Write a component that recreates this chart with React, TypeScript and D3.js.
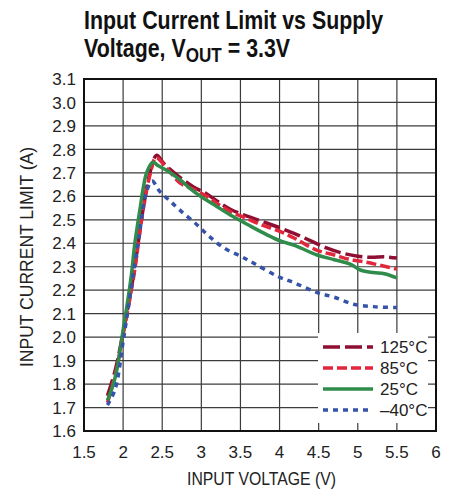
import React from 'react';
import * as d3 from 'd3';

// Values
const xTicks = [1.5, 2, 2.5, 3, 3.5, 4, 4.5, 5, 5.5, 6];
const yTicks = [1.6, 1.7, 1.8, 1.9, 2.0, 2.1, 2.2, 2.3, 2.4, 2.5, 2.6, 2.7, 2.8, 2.9, 3.0, 3.1];

const vin125 = [1.8, 1.9, 2.0, 2.1, 2.15, 2.26, 2.35, 2.43, 2.52, 2.62, 2.73, 2.9, 3.07, 3.2, 3.37, 3.55, 3.76, 4.01, 4.2, 4.4, 4.6, 4.78, 5.0, 5.17, 5.35, 5.5];
const cur125 = [1.75, 1.86, 2.02, 2.2, 2.3, 2.556, 2.71, 2.775, 2.74, 2.71, 2.68, 2.64, 2.61, 2.58, 2.545, 2.52, 2.495, 2.465, 2.44, 2.41, 2.38, 2.36, 2.345, 2.34, 2.342, 2.337];

const vin85 = [1.8, 1.9, 2.0, 2.1, 2.15, 2.26, 2.35, 2.42, 2.56, 2.73, 2.9, 3.07, 3.2, 3.37, 3.55, 3.76, 4.01, 4.2, 4.48, 4.7, 4.91, 5.1, 5.3, 5.5];
const cur85 = [1.72, 1.84, 2.01, 2.19, 2.29, 2.55, 2.7, 2.765, 2.72, 2.656, 2.63, 2.6, 2.57, 2.535, 2.51, 2.48, 2.45, 2.42, 2.37, 2.35, 2.33, 2.32, 2.305, 2.29];

const vin25 = [1.8, 1.9, 2.0, 2.1, 2.15, 2.22, 2.26, 2.3, 2.38, 2.45, 2.56, 2.73, 2.85, 2.99, 3.16, 3.37, 3.59, 3.84, 4.01, 4.2, 4.48, 4.7, 4.91, 5.04, 5.2, 5.34, 5.5];
const cur25 = [1.73, 1.83, 2.03, 2.25, 2.4, 2.555, 2.64, 2.7, 2.745, 2.73, 2.71, 2.67, 2.635, 2.6, 2.565, 2.52, 2.48, 2.436, 2.41, 2.39, 2.35, 2.33, 2.31, 2.285, 2.275, 2.27, 2.252];

const vinM40 = [1.8, 1.9, 2.0, 2.1, 2.2, 2.3, 2.37, 2.47, 2.6, 2.73, 2.94, 3.1, 3.29, 3.5, 3.67, 3.97, 4.2, 4.48, 4.7, 4.95, 5.2, 5.5];
const curM40 = [1.71, 1.78, 1.98, 2.2, 2.42, 2.62, 2.665, 2.62, 2.58, 2.54, 2.48, 2.43, 2.38, 2.345, 2.315, 2.26, 2.23, 2.19, 2.17, 2.14, 2.13, 2.126];

const seriesNames = ['125°C', '85°C', '25°C', '–40°C'];
const seriesX = [vin125, vin85, vin25, vinM40];
const seriesY = [cur125, cur85, cur25, curM40];
const seriesColors = ['#8e0f32', '#e2263c', '#2f8c4a', '#3553a8'];
const seriesDash = ['17,5', '10,4', '', '5,5'];

const FONT = '"Liberation Sans", Arial, sans-serif';

const App: React.FC = () => {
  const W = 471;
  const H = 491;
  const margin = { left: 84, right: 35, top: 79, bottom: 60 };
  const innerW = W - margin.left - margin.right;
  const innerH = H - margin.top - margin.bottom;

  const x = d3.scaleLinear().domain([1.5, 6]).range([0, innerW]);
  const y = d3.scaleLinear().domain([1.6, 3.1]).range([innerH, 0]);

  const line = d3.line<[number, number]>()
    .x(d => x(d[0]))
    .y(d => y(d[1]))
    .curve(d3.curveCatmullRom.alpha(0.5));

  const legendX = 318 - margin.left;
  const legendY = 333 - margin.top;

  return (
    <svg width={W} height={H} style={{ position: 'absolute', left: 0, top: 0, background: '#fff' }} fontFamily={FONT}>
      {/* condensed title, as in the datasheet */}
      <g transform="translate(84,0) scale(0.855,1)">
        <text x={0} y={29} fontSize={25} fontWeight="bold" fill="#111">Input Current Limit vs Supply</text>
        <text x={0} y={57} fontSize={25} fontWeight="bold" fill="#111">
          Voltage, V<tspan fontSize={20} dy={5}>OUT</tspan><tspan dy={-5}> = 3.3V</tspan>
        </text>
      </g>

      <g transform={`translate(${margin.left},${margin.top})`}>
        {/* grid */}
        {yTicks.map(t => (
          <line key={'gy' + t} x1={0} x2={innerW} y1={y(t)} y2={y(t)} stroke="#3c3c3c" strokeWidth={1.2} />
        ))}
        {xTicks.map(t => (
          <line key={'gx' + t} x1={x(t)} x2={x(t)} y1={0} y2={innerH} stroke="#3c3c3c" strokeWidth={1.2} />
        ))}

        {/* legend box hides the grid behind it */}
        <rect x={legendX} y={legendY} width={110} height={90} fill="#fff" />

        {seriesX.map((xs, i) => (
          <path
            key={seriesNames[i]}
            d={line(xs.map((v, j) => [v, seriesY[i][j]] as [number, number])) || ''}
            fill="none"
            stroke={seriesColors[i]}
            strokeWidth={3.5}
            strokeDasharray={seriesDash[i]}
          />
        ))}

        <rect x={0} y={0} width={innerW} height={innerH} fill="none" stroke="#111" strokeWidth={2} />

        {/* ticks */}
        {yTicks.map(t => (
          <text key={'ty' + t} x={-8} y={y(t)} dy="0.36em" textAnchor="end" fontSize={17} fill="#222">
            {d3.format('.1f')(t)}
          </text>
        ))}
        {xTicks.map(t => (
          <text key={'tx' + t} x={x(t)} y={innerH + 27} textAnchor="middle" fontSize={17} fill="#222">
            {String(t)}
          </text>
        ))}

        {/* legend */}
        {seriesNames.map((n, i) => (
          <g key={'lg' + n} transform={`translate(${legendX + 5},${legendY + 14 + i * 21})`}>
            <line x1={0} x2={50} y1={0} y2={0} stroke={seriesColors[i]} strokeWidth={3.5} strokeDasharray={seriesDash[i]} />
            <text x={57} y={0} dy="0.36em" fontSize={17} fill="#222">{n}</text>
          </g>
        ))}
      </g>

      <text x={261.5} y={485} textAnchor="middle" fontSize={19} fill="#222" textLength={149} lengthAdjust="spacingAndGlyphs">INPUT VOLTAGE (V)</text>
      <text transform="translate(33,257) rotate(-90)" textAnchor="middle" fontSize={18} fill="#222" textLength={220} lengthAdjust="spacingAndGlyphs">INPUT CURRENT LIMIT (A)</text>
    </svg>
  );
};

export default App;
